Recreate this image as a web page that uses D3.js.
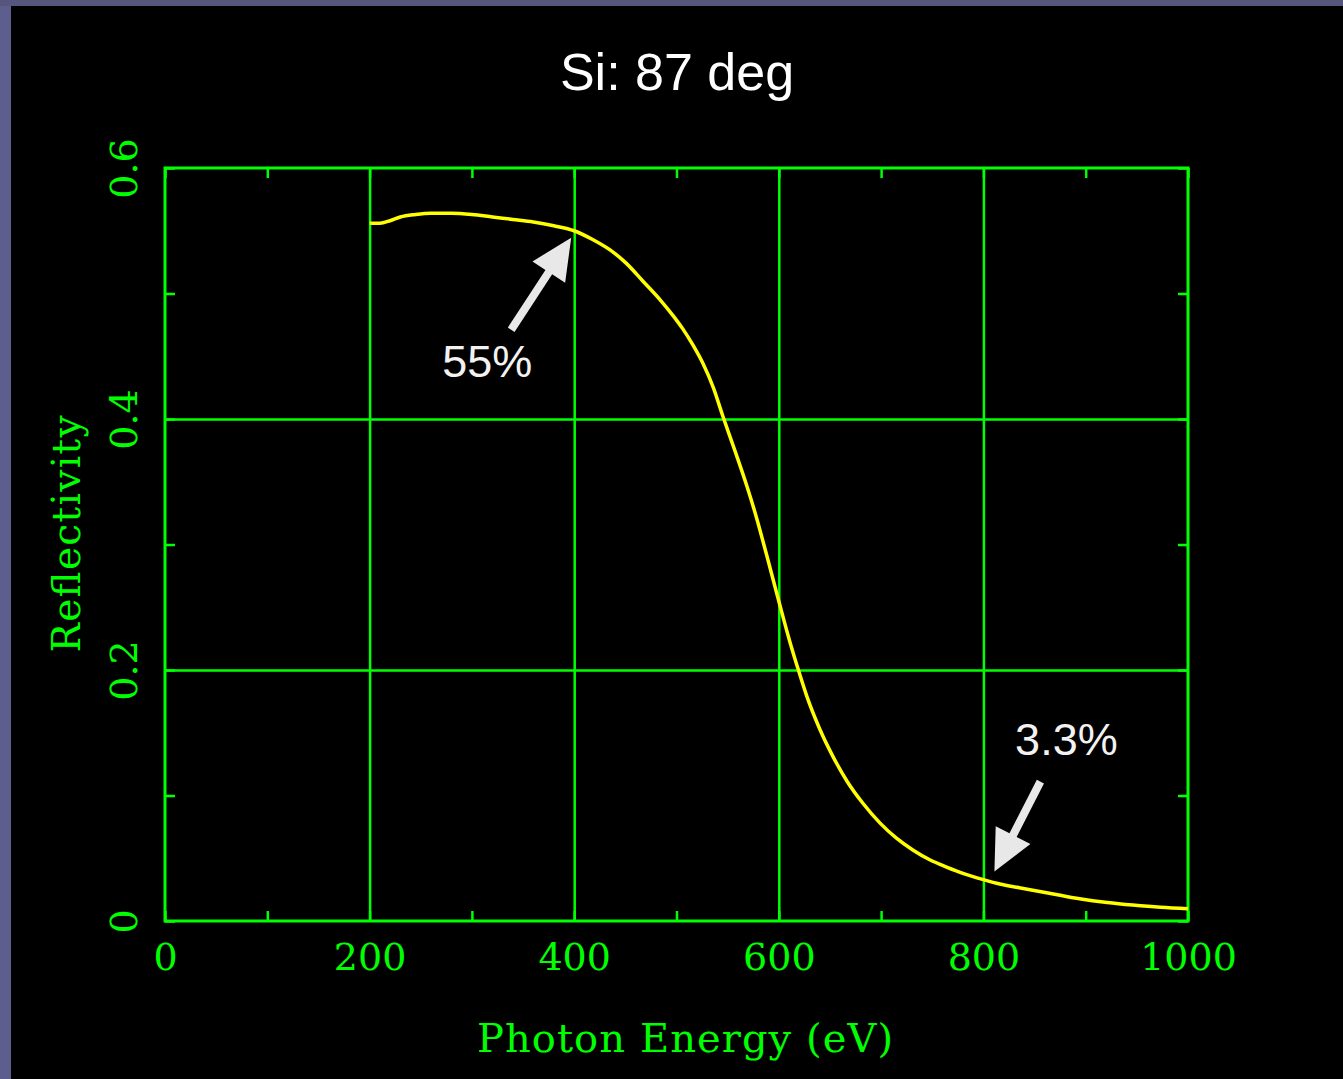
<!DOCTYPE html>
<html>
<head>
<meta charset="utf-8">
<script src="https://cdn.jsdelivr.net/npm/d3@7"></script>
<style>
  html, body { margin: 0; padding: 0; background: #000; }
  svg { display: block; }
</style>
</head>
<body>
<svg id="chart" width="1343" height="1079"></svg>
<script>
// Reflectivity of silicon at 87 degrees vs photon energy
const energy = [200, 210, 220, 230, 245, 260, 280, 300, 320, 340,
                360, 380, 400, 418, 438, 451, 467, 484, 497, 506,
                516, 526, 536, 545, 557, 569, 578, 588, 599, 611,
                618, 627, 640, 653, 667, 682, 699, 715, 731, 748,
                764, 780, 800, 816, 835, 855, 875, 894, 921, 946,
                973, 1000];
const reflectivity = [0.556, 0.556, 0.558, 0.561, 0.563, 0.564, 0.564, 0.563, 0.561, 0.559,
                      0.557, 0.554, 0.550, 0.543, 0.533, 0.524, 0.510, 0.495, 0.482, 0.472,
                      0.459, 0.444, 0.425, 0.403, 0.375, 0.346, 0.322, 0.292, 0.258, 0.222,
                      0.203, 0.180, 0.153, 0.131, 0.111, 0.094, 0.078, 0.066, 0.0566, 0.0486,
                      0.0430, 0.038, 0.033, 0.0295, 0.0265, 0.0235, 0.0205, 0.0178, 0.0148, 0.0127,
                      0.0109, 0.0098];

const xTickLabels = [0, 200, 400, 600, 800, 1000];
const yTickLabels = [0, 0.2, 0.4, 0.6];
const xMinorTicks = [0, 100, 200, 300, 400, 500, 600, 700, 800, 900, 1000];
const yMinorTicks = [0, 0.1, 0.2, 0.3, 0.4, 0.5, 0.6];

const annotationLabels = ["55%", "3.3%"];
const annotationEnergy = [400, 800];

const chartTitle = "Si: 87 deg";
const xTitle = "Photon Energy (eV)";
const yTitle = "Reflectivity";

// ---- layout ----
const W = 1343, H = 1079;
const plot = { left: 165, top: 168, right: 1188, bottom: 921 };
const GREEN = "#00ff00";
const svg = d3.select("#chart");

// slide frame
svg.append("rect").attr("x", 0).attr("y", 0).attr("width", W).attr("height", H).attr("fill", "#5e5e8e");
svg.append("rect").attr("x", 0).attr("y", 0).attr("width", W).attr("height", 6).attr("fill", "#55557e");
svg.append("rect").attr("x", 11).attr("y", 6).attr("width", W - 11).attr("height", H - 6).attr("fill", "#000");

const x = d3.scaleLinear().domain([0, 1000]).range([plot.left, plot.right]);
const y = d3.scaleLinear().domain([0, 0.6]).range([plot.bottom, plot.top]);
const pw = plot.right - plot.left, ph = plot.bottom - plot.top;

// grid lines
const gridX = svg.append("g").attr("transform", `translate(0,${plot.bottom})`)
  .call(d3.axisBottom(x).tickValues([200, 400, 600, 800]).tickSize(-ph).tickFormat(""));
const gridY = svg.append("g").attr("transform", `translate(${plot.left},0)`)
  .call(d3.axisLeft(y).tickValues([0.2, 0.4]).tickSize(-pw).tickFormat(""));
[gridX, gridY].forEach(g => {
  g.select(".domain").remove();
  g.selectAll("line").attr("stroke", GREEN).attr("stroke-width", 2.5);
});

// inward ticks on all four sides
const tickLen = 10;
const tickAxes = [
  svg.append("g").attr("transform", `translate(0,${plot.bottom})`)
     .call(d3.axisBottom(x).tickValues(xMinorTicks).tickSize(-tickLen).tickFormat("")),
  svg.append("g").attr("transform", `translate(0,${plot.top})`)
     .call(d3.axisTop(x).tickValues(xMinorTicks).tickSize(-tickLen).tickFormat("")),
  svg.append("g").attr("transform", `translate(${plot.left},0)`)
     .call(d3.axisLeft(y).tickValues(yMinorTicks).tickSize(-tickLen).tickFormat("")),
  svg.append("g").attr("transform", `translate(${plot.right},0)`)
     .call(d3.axisRight(y).tickValues(yMinorTicks).tickSize(-tickLen).tickFormat(""))
];
tickAxes.forEach(g => {
  g.select(".domain").remove();
  g.selectAll("line").attr("stroke", GREEN).attr("stroke-width", 2.5);
});

// frame
svg.append("rect")
  .attr("x", plot.left).attr("y", plot.top).attr("width", pw).attr("height", ph)
  .attr("fill", "none").attr("stroke", GREEN).attr("stroke-width", 3);

// tick labels
const labelFont = "'DejaVu Serif', serif";
const xLab = svg.append("g").attr("transform", `translate(0,${plot.bottom})`)
  .call(d3.axisBottom(x).tickValues(xTickLabels).tickSize(0).tickFormat(d3.format("d")));
xLab.select(".domain").remove();
xLab.selectAll("text")
  .attr("y", 49).attr("dy", null)
  .attr("fill", GREEN).style("font-family", labelFont).style("font-size", "38px");

const yLab = svg.append("g").attr("transform", `translate(${plot.left},0)`)
  .call(d3.axisLeft(y).tickValues(yTickLabels).tickSize(0).tickFormat(d => d === 0 ? "0" : d3.format(".1f")(d)));
yLab.select(".domain").remove();
yLab.selectAll("text")
  .attr("x", null).attr("dy", null)
  .attr("text-anchor", "middle")
  .attr("transform", "translate(-28,0) rotate(-90)")
  .attr("fill", GREEN).style("font-family", labelFont).style("font-size", "38px");

// axis titles
svg.append("text")
  .attr("x", 685).attr("y", 1052)
  .attr("text-anchor", "middle")
  .attr("textLength", 416).attr("lengthAdjust", "spacing")
  .attr("fill", GREEN).style("font-family", labelFont).style("font-size", "40px")
  .text(xTitle);

svg.append("text")
  .attr("transform", "translate(80,534) rotate(-90)")
  .attr("text-anchor", "middle")
  .attr("textLength", 237).attr("lengthAdjust", "spacing")
  .attr("fill", GREEN).style("font-family", labelFont).style("font-size", "39px")
  .text(yTitle);

// chart title
svg.append("text")
  .attr("x", 677).attr("y", 90)
  .attr("text-anchor", "middle")
  .attr("fill", "#ffffff")
  .style("font-family", "'Liberation Sans', Arial, sans-serif").style("font-size", "52px")
  .text(chartTitle);

// reflectivity curve
const series = energy.map((e, i) => [e, reflectivity[i]]);
svg.append("path")
  .datum(series)
  .attr("fill", "none")
  .attr("stroke", "#ffff00")
  .attr("stroke-width", 3.5)
  .attr("stroke-linejoin", "round")
  .attr("d", d3.line().x(d => x(d[0])).y(d => y(d[1])).curve(d3.curveMonotoneX));

// annotation arrows pointing at labelled values
const annotationLayout = [
  { tip: [-3, 7],  tail: [-63, 99], label: [-87, 146] },
  { tip: [11, -8], tail: [57, -98], label: [83, -125] }
];
function arrowPoints(t, h, shaftW, headLen, headW) {
  const dx = h[0] - t[0], dy = h[1] - t[1];
  const len = Math.hypot(dx, dy);
  const ux = dx / len, uy = dy / len, nx = -uy, ny = ux;
  const b = [h[0] - ux * headLen, h[1] - uy * headLen];
  return [
    [t[0] + nx * shaftW / 2, t[1] + ny * shaftW / 2],
    [b[0] + nx * shaftW / 2, b[1] + ny * shaftW / 2],
    [b[0] + nx * headW / 2, b[1] + ny * headW / 2],
    h,
    [b[0] - nx * headW / 2, b[1] - ny * headW / 2],
    [b[0] - nx * shaftW / 2, b[1] - ny * shaftW / 2],
    [t[0] - nx * shaftW / 2, t[1] - ny * shaftW / 2]
  ];
}
annotationLabels.forEach((txt, i) => {
  const e = annotationEnergy[i];
  const r = reflectivity[energy.indexOf(e)];
  const px = x(e), py = y(r);
  const L = annotationLayout[i];
  const tip = [px + L.tip[0], py + L.tip[1]];
  const tail = [px + L.tail[0], py + L.tail[1]];
  svg.append("polygon")
    .attr("points", arrowPoints(tail, tip, 8, 41, 39).map(p => p.join(",")).join(" "))
    .attr("fill", "#e8e8e8");
  svg.append("text")
    .attr("x", px + L.label[0]).attr("y", py + L.label[1])
    .attr("text-anchor", "middle")
    .attr("fill", "#f2f2f2")
    .style("font-family", "'Liberation Sans', Arial, sans-serif").style("font-size", "45px")
    .text(txt);
});
</script>
</body>
</html>
